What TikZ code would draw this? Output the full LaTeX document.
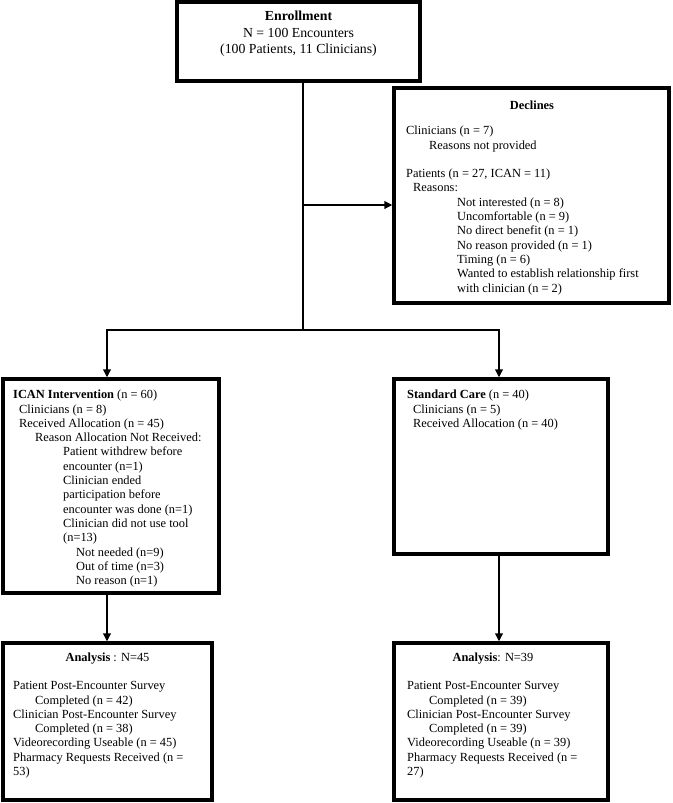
\documentclass[tikz,border=0pt]{standalone}
\usepackage{fontspec}
\setmainfont{Liberation Serif}
\usetikzlibrary{arrows.meta}
\newcommand\bfnt{\fontsize{12.4}{14.3}\selectfont}
\newcommand\efnt{\fontsize{13.8}{16.5}\selectfont}
\begin{document}
\begin{tikzpicture}[x=1pt,y=-1pt,
  box/.style={draw, line width=3.2pt, inner sep=0pt},
  conn/.style={line width=2.3pt},
  arr/.style={conn, -{Triangle[length=8pt,width=7.5pt]}},
  txt/.style={inner sep=0pt, anchor=north west, font=\bfnt},
  ttl/.style={inner sep=0pt, anchor=north, font=\bfnt}]
\useasboundingbox (0,0) rectangle (672,803);
% boxes
\node[box, minimum width=243pt, minimum height=79pt] (enroll) at (298.5,41.5) {};
\node[box, minimum width=275pt, minimum height=215pt] (declines) at (531.5,195.5) {};
\node[box, minimum width=216pt, minimum height=214pt] (ican) at (111,486) {};
\node[box, minimum width=214pt, minimum height=175pt] (sc) at (501,466.5) {};
\node[box, minimum width=209pt, minimum height=157pt] (anL) at (107.5,721.5) {};
\node[box, minimum width=214pt, minimum height=157pt] (anR) at (501,721.5) {};
% texts
\node[inner sep=0pt, anchor=north, font=\efnt] (enrolltxt) at (298.5,8.95) {\begin{tabular}{@{}c@{}}
\textbf{Enrollment}\\
N = 100 Encounters\\
(100 Patients, 11 Clinicians)
\end{tabular}};
\node[ttl] (dttl) at (532,99.5) {\begin{tabular}{@{}c@{}}\textbf{Declines}\end{tabular}};
\node[txt] (dtxt) at (406,124.5) {\begin{tabular}{@{}l@{}}
Clinicians (n = 7)\\
\hspace*{23pt}Reasons not provided\\
\\
Patients (n = 27, ICAN = 11)\\
\hspace*{7pt}Reasons:\\
\hspace*{51pt}Not interested (n = 8)\\
\hspace*{51pt}Uncomfortable (n = 9)\\
\hspace*{51pt}No direct benefit (n = 1)\\
\hspace*{51pt}No reason provided (n = 1)\\
\hspace*{51pt}Timing (n = 6)\\
\hspace*{51pt}Wanted to establish relationship first\\
\hspace*{51pt}with clinician (n = 2)
\end{tabular}};
\node[txt] (itxt) at (13,388.5) {\begin{tabular}{@{}l@{}}
\textbf{ICAN Intervention} (n = 60)\\
\hspace*{6pt}Clinicians (n = 8)\\
\hspace*{6pt}Received Allocation (n = 45)\\
\hspace*{22pt}Reason Allocation Not Received:\\
\hspace*{50pt}Patient withdrew before\\
\hspace*{50pt}encounter (n=1)\\
\hspace*{50pt}Clinician ended\\
\hspace*{50pt}participation before\\
\hspace*{50pt}encounter was done (n=1)\\
\hspace*{50pt}Clinician did not use tool\\
\hspace*{50pt}(n=13)\\
\hspace*{63pt}Not needed (n=9)\\
\hspace*{63pt}Out of time (n=3)\\
\hspace*{63pt}No reason (n=1)
\end{tabular}};
\node[txt] (stxt) at (407,388.5) {\begin{tabular}{@{}l@{}}
\textbf{Standard Care} (n = 40)\\
\hspace*{6pt}Clinicians (n = 5)\\
\hspace*{6pt}Received Allocation (n = 40)
\end{tabular}};
\node[ttl] (alttl) at (107.5,651.5) {\begin{tabular}{@{}c@{}}\textbf{Analysis} : N=45\end{tabular}};
\node[txt] (altxt) at (13,679.5) {\begin{tabular}{@{}l@{}}
Patient Post-Encounter Survey\\
\hspace*{22pt}Completed (n = 42)\\
Clinician Post-Encounter Survey\\
\hspace*{22pt}Completed (n = 38)\\
Videorecording Useable (n = 45)\\
Pharmacy Requests Received (n =\\
53)
\end{tabular}};
\node[ttl] (arttl) at (493,651.5) {\begin{tabular}{@{}c@{}}\textbf{Analysis}: N=39\end{tabular}};
\node[txt] (artxt) at (407,679.5) {\begin{tabular}{@{}l@{}}
Patient Post-Encounter Survey\\
\hspace*{22pt}Completed (n = 39)\\
Clinician Post-Encounter Survey\\
\hspace*{22pt}Completed (n = 39)\\
Videorecording Useable (n = 39)\\
Pharmacy Requests Received (n =\\
27)
\end{tabular}};
% connectors
\coordinate (split) at (303,330);
\coordinate (dj) at (303,205);
\coordinate (lx) at (107,330);
\coordinate (rx) at (499,330);
\draw[conn] (enroll.south -| split) -- (split);
\draw[arr] (dj) -- (dj -| declines.west);
\draw[arr] (split) -- (lx) -- (lx |- ican.north);
\draw[arr] (split) -- (rx) -- (rx |- sc.north);
\draw[arr] (lx |- ican.south) -- (lx |- anL.north);
\draw[arr] (rx |- sc.south) -- (rx |- anR.north);
\end{tikzpicture}
\end{document}
